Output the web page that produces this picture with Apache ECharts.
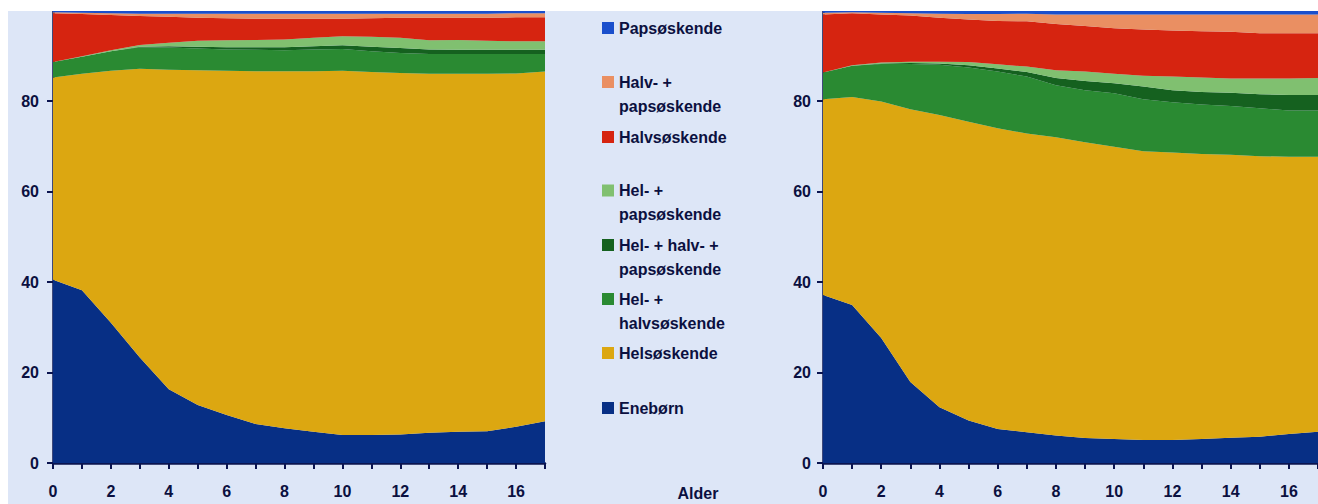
<!DOCTYPE html>
<html><head><meta charset="utf-8">
<script src="https://cdn.jsdelivr.net/npm/echarts@6/dist/echarts.min.js"></script>
<style>html,body{margin:0;padding:0;background:#fff;} #c{width:1318px;height:504px;}</style>
</head><body><div id="c"></div>
<script>
// Categories (age)
const ages = ['0','1','2','3','4','5','6','7','8','9','10','11','12','13','14','15','16','17'];
const yTicks = [0, 20, 40, 60, 80, 100];

// Series names (bottom to top of the stack)
const names = ['Enebørn','Helsøskende','Hel- + halvsøskende','Hel- + halv- + papsøskende','Hel- + papsøskende','Halvsøskende','Halv- + papsøskende','Papsøskende'];
const colors = ['#072f85','#dca711','#2a8a32','#15611f','#80c070','#d62410','#ea8f62','#1a4fcc'];

// Left panel values (percent)
const eneL      = [40.5,38.2,31.0,23.3,16.3,12.8,10.6,8.6,7.7,6.9,6.2,6.2,6.3,6.7,6.9,7.0,8.0,9.2];
const helL      = [44.7,47.8,55.7,63.8,70.6,74.0,76.1,78.0,78.9,79.7,80.5,80.2,79.9,79.3,79.1,79.0,78.1,77.3];
const helHalvL  = [3.4,3.8,4.3,4.8,4.9,4.8,4.7,4.7,4.6,4.8,4.8,4.6,4.4,4.4,4.4,4.4,4.3,3.9];
const helHalvPapsL = [0,0,0,0.1,0.3,0.4,0.5,0.6,0.7,0.7,0.8,1.0,1.1,1.0,0.9,0.9,0.9,0.9];
const helPapsL  = [0,0.1,0.2,0.4,0.8,1.3,1.5,1.6,1.7,1.9,2.0,2.2,2.3,2.0,2.2,2.0,1.9,1.9];
const halvL     = [10.8,9.3,7.8,6.4,5.7,5.1,4.9,4.7,4.6,4.2,3.9,4.1,4.4,5.0,4.9,5.1,5.3,5.3];
const halvPapsL = [0.2,0.3,0.4,0.5,0.7,0.9,1.0,1.1,1.1,1.1,1.1,1.0,0.9,0.9,0.9,0.9,0.9,0.9];
const papsL     = [0.4,0.5,0.6,0.7,0.7,0.7,0.7,0.7,0.7,0.7,0.7,0.7,0.7,0.7,0.7,0.7,0.6,0.6];

// Right panel values (percent)
const eneR      = [37.1,34.9,27.6,17.9,12.3,9.4,7.5,6.8,6.1,5.5,5.3,5.1,5.1,5.3,5.6,5.8,6.4,6.9];
const helR      = [43.3,46.0,52.3,60.3,64.6,66.0,66.5,66.0,65.9,65.4,64.6,63.8,63.5,63.0,62.5,62.0,61.3,60.8];
const helHalvR  = [5.9,6.9,8.3,10.0,11.1,12.0,12.5,12.6,11.5,11.5,11.8,11.5,11.1,10.9,10.8,10.6,10.2,10.2];
const helHalvPapsR = [0,0,0.1,0.2,0.3,0.5,0.7,1.0,1.6,2.0,2.2,2.8,2.7,2.8,2.9,3.1,3.4,3.4];
const helPapsR  = [0,0.1,0.2,0.3,0.4,0.7,0.9,1.2,1.7,2.1,2.1,2.4,3.0,3.2,3.2,3.5,3.7,3.8];
const halvR     = [12.8,11.5,10.6,10.2,9.7,9.4,9.6,10.0,10.2,10.1,10.1,10.2,10.2,10.2,10.3,10.0,10.0,9.9];
const halvPapsR = [0.4,0.2,0.4,0.5,0.9,1.2,1.5,1.7,2.1,2.5,3.0,3.3,3.5,3.7,3.8,4.1,4.1,4.1];
const papsR     = [0.5,0.4,0.5,0.6,0.7,0.8,0.8,0.9,0.9,0.9,0.9,0.9,0.9,0.9,0.9,0.9,0.9,0.9];

// Legend (top to bottom) with line breaks
const legendItems = [
  ['Papsøskende'],
  ['Halv- +','papsøskende'],
  ['Halvsøskende'],
  ['Hel- +','papsøskende'],
  ['Hel- + halv- +','papsøskende'],
  ['Hel- +','halvsøskende'],
  ['Helsøskende'],
  ['Enebørn']
];
const legendColors = ['#1a4fcc','#ea8f62','#d62410','#80c070','#15611f','#2a8a32','#dca711','#072f85'];
const legendY = [28, 82, 137, 190.5, 245, 299, 353, 408];
const xTitle = 'Alder';

const FONT = 'Liberation Sans';
const TXT = '#0b1040';
const AX = '#0a1450';

const leftData = [eneL, helL, helHalvL, helHalvPapsL, helPapsL, halvL, halvPapsL, papsL];
const rightData = [eneR, helR, helHalvR, helHalvPapsR, helPapsR, halvR, halvPapsR, papsR];

function mkSeries(data, idx) {
  return data.map((d, i) => ({
    name: names[i], type: 'line', stack: 'p' + idx,
    xAxisIndex: idx, yAxisIndex: idx,
    data: d, showSymbol: false, symbol: 'none',
    lineStyle: { width: 0 },
    areaStyle: { color: colors[i], opacity: 1 },
    itemStyle: { color: colors[i] },
    silent: true, animation: false
  }));
}

function mkX(idx) {
  return {
    type: 'category', gridIndex: idx, data: ages, boundaryGap: false,
    axisLine: { lineStyle: { color: AX, width: 2.5 } },
    axisTick: { show: true, interval: 0, length: 6, lineStyle: { color: AX, width: 2 } },
    axisLabel: { interval: 1, margin: 20, color: TXT, fontFamily: FONT, fontWeight: 'bold', fontSize: 16 },
    splitLine: { show: false }
  };
}
function mkY(idx) {
  return {
    type: 'value', gridIndex: idx, min: yTicks[0], max: yTicks[yTicks.length-1], interval: 20,
    axisLine: { show: true, lineStyle: { color: AX, width: 2.5 } },
    axisTick: { show: true, length: 6, lineStyle: { color: AX, width: 2 } },
    axisLabel: { showMaxLabel: false, margin: idx === 0 ? 14 : 12, color: TXT, fontFamily: FONT, fontWeight: 'bold', fontSize: 16 },
    splitLine: { show: false }
  };
}

const graphics = [];
legendItems.forEach((lines, i) => {
  graphics.push({ type: 'rect', left: 602, top: legendY[i] - 6, shape: { width: 12, height: 12 }, style: { fill: legendColors[i] }, z: 100 });
  lines.forEach((t, j) => {
    graphics.push({ type: 'text', x: 619, y: legendY[i] + j * 24, style: { text: t, fill: TXT, font: 'bold 16px ' + FONT, textVerticalAlign: 'middle', textAlign: 'left' }, z: 100 });
  });
});
graphics.push({ type: 'text', x: 698, y: 493, style: { text: xTitle, fill: TXT, font: 'bold 16px ' + FONT, textVerticalAlign: 'middle', textAlign: 'center' }, z: 100 });
// white page margin at top and left
graphics.push({ type: 'rect', left: 0, top: 0, shape: { width: 1318, height: 11 }, style: { fill: '#ffffff' }, z: 200 });
graphics.push({ type: 'rect', left: 0, top: 0, shape: { width: 8, height: 504 }, style: { fill: '#ffffff' }, z: 200 });

const chart = echarts.init(document.getElementById('c'), null, { renderer: 'svg' });
chart.setOption({
  backgroundColor: '#dde6f7',
  animation: false,
  grid: [
    { left: 53, top: 10.5, width: 492, bottom: 41, containLabel: false },
    { left: 823, top: 10.5, width: 496, bottom: 41, containLabel: false }
  ],
  xAxis: [mkX(0), mkX(1)],
  yAxis: [mkY(0), mkY(1)],
  series: mkSeries(leftData, 0).concat(mkSeries(rightData, 1)),
  graphic: graphics
});
</script></body></html>
